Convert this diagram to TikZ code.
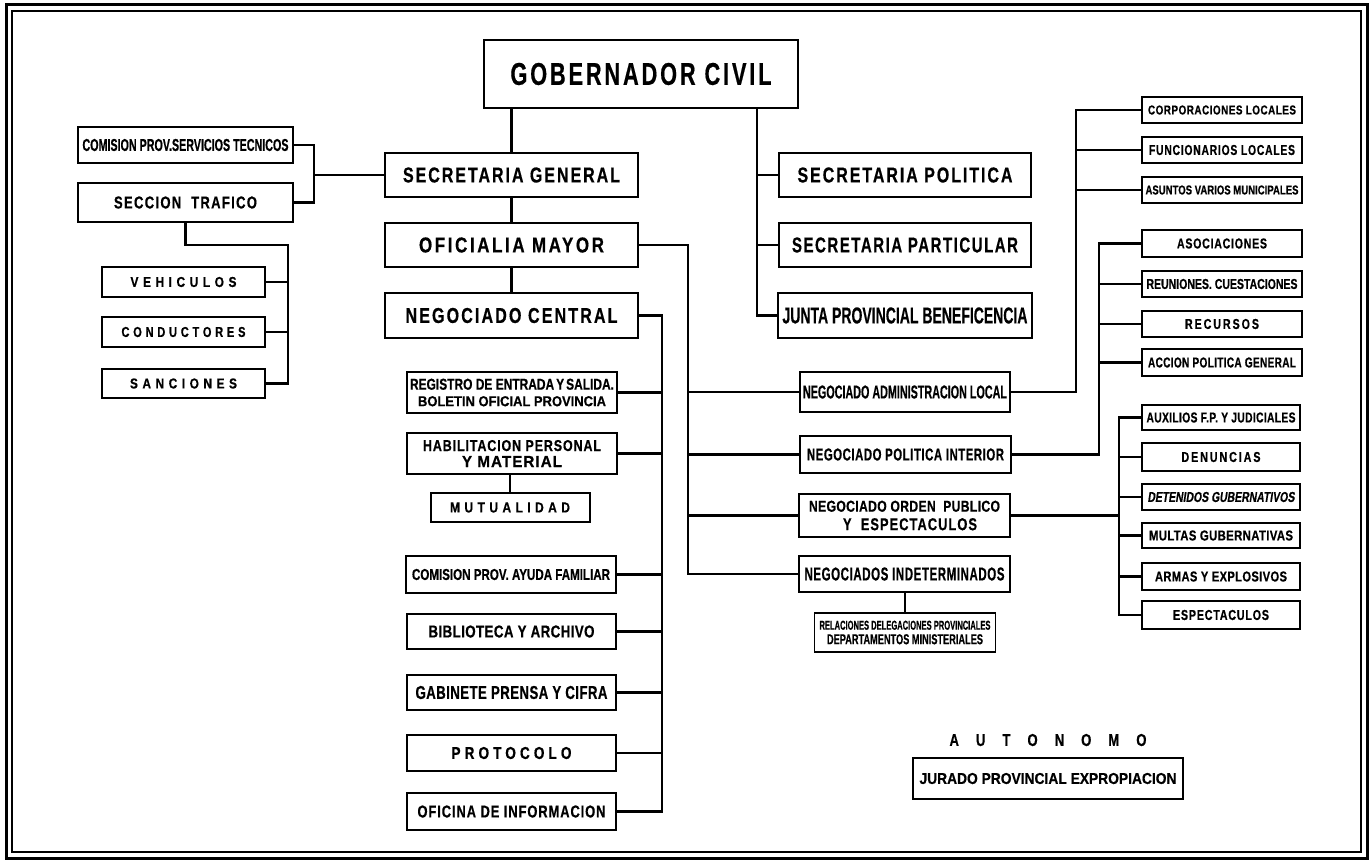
\documentclass[tikz,border=0pt]{standalone}
\usepackage{fontspec}
\setmainfont{Liberation Sans}
\usepackage{graphicx}
\newcommand\tx[4][0]{\resizebox{#2pt}{#3pt}{\bfseries\addfontfeatures{LetterSpace=#1,FakeBold=0.6}#4}}
\begin{document}
\begin{tikzpicture}[x=1pt,y=-1pt,
  bx/.style n args={2}{draw,line width=2pt,inner sep=0pt,minimum width=#1pt,minimum height=#2pt,align=center},
  ln/.style={line width=2.4pt},
  trunk/.style={line width=3.4pt}]
\useasboundingbox (0,0) rectangle (1370,863);
\fill[white] (0,0) rectangle (1370,863);
% frame
\draw[line width=3pt] (6,4) rectangle (1367,858);
\draw[line width=2pt] (12,11) rectangle (1361,852);

% top level
\node[bx={314}{68},line width=2.4pt] (gob) at (641,74) {\tx[13]{261}{22}{GOBERNADOR CIVIL}};
\node[bx={253}{44},line width=2.2pt] (secgen) at (511.5,175) {\tx[12]{217}{15}{SECRETARIA GENERAL}};
\node[bx={253}{44},line width=2.2pt] (ofim) at (511.5,245) {\tx[15]{185}{15}{OFICIALIA MAYOR}};
\node[bx={253}{45},line width=2.2pt] (negc) at (511.5,315.5) {\tx[13]{212}{15}{NEGOCIADO CENTRAL}};
\node[bx={252}{44},line width=2.2pt] (secpol) at (905,175) {\tx[12]{215}{15}{SECRETARIA POLITICA}};
\node[bx={252}{44},line width=2.2pt] (secpar) at (905,245) {\tx[10]{226}{15}{SECRETARIA PARTICULAR}};
\node[bx={254}{45},line width=2.2pt] (junta) at (905,315.5) {\tx{245}{16}{JUNTA PROVINCIAL BENEFICENCIA}};

% left group
\node[bx={215}{36}] (cst) at (185.5,145) {\tx{206}{12}{COMISION PROV.SERVICIOS TECNICOS}};
\node[bx={215}{39}] (traf) at (185.5,202.5) {\tx[10]{143}{12}{SECCION\ \ TRAFICO}};
\node[bx={163}{30}] (veh) at (183.5,282) {\tx[38]{106}{10}{VEHICULOS}};
\node[bx={163}{30}] (cond) at (183.5,332) {\tx[34]{124}{10}{CONDUCTORES}};
\node[bx={163}{29}] (sanc) at (183.5,383.5) {\tx[38]{107}{10}{SANCIONES}};

% negociado central children
\node[bx={210}{41},font=\fontsize{10pt}{16.5pt}\selectfont] (reg) at (512,392.5)
  {\tx{204}{11}{REGISTRO DE ENTRADA\,Y\,SALIDA.}\\\tx{188}{10}{BOLETIN OFICIAL PROVINCIA}};
\node[bx={210}{41},font=\fontsize{10pt}{16pt}\selectfont] (hab) at (512,453.5)
  {\tx[7]{178}{11}{HABILITACION PERSONAL}\\\tx[7]{100}{11}{Y MATERIAL}};
\node[bx={159}{29}] (mut) at (510,507.5) {\tx[36]{120}{10}{MUTUALIDAD}};
\node[bx={210}{37}] (caf) at (511,574.5) {\tx{198}{11}{COMISION PROV. AYUDA FAMILIAR}};
\node[bx={209}{35}] (bib) at (511.5,631.5) {\tx[3]{166}{12}{BIBLIOTECA Y ARCHIVO}};
\node[bx={209}{35}] (gab) at (511.5,692.5) {\tx[3]{192}{13}{GABINETE PRENSA Y CIFRA}};
\node[bx={209}{36}] (prot) at (511.5,753) {\tx[30]{120}{12}{PROTOCOLO}};
\node[bx={209}{37}] (ofi) at (511.5,811.5) {\tx[7]{188}{12}{OFICINA DE INFORMACION}};

% oficialia mayor children
\node[bx={210}{40}] (nal) at (905,392) {\tx{204}{13}{NEGOCIADO ADMINISTRACION LOCAL}};
\node[bx={211}{37}] (npi) at (905.5,454.5) {\tx[5]{197}{12}{NEGOCIADO POLITICA INTERIOR}};
\node[bx={211}{43},font=\fontsize{10pt}{18.5pt}\selectfont] (nop) at (904.5,515.5)
  {\tx[3]{191}{11}{NEGOCIADO ORDEN\ \ PUBLICO}\\\hspace*{11pt}\tx[8]{134}{12}{Y\ \ ESPECTACULOS}};
\node[bx={211}{36}] (nin) at (904.5,574) {\tx[5]{200}{13}{NEGOCIADOS INDETERMINADOS}};
\node[bx={181}{39},line width=1.8pt,font=\fontsize{10pt}{14.5pt}\selectfont] (rel) at (905,632.5)
  {\tx{171}{9}{RELACIONES DELEGACIONES PROVINCIALES}\\\tx{156}{10}{DEPARTAMENTOS MINISTERIALES}};

% right column
\node[bx={160}{26},line width=1.8pt] (corp) at (1222,110) {\tx[5]{148}{9}{CORPORACIONES LOCALES}};
\node[bx={160}{26},line width=1.8pt] (func) at (1222,150) {\tx[7]{146}{10}{FUNCIONARIOS LOCALES}};
\node[bx={160}{26},line width=1.8pt] (asun) at (1222,190) {\tx{153}{9}{ASUNTOS VARIOS MUNICIPALES}};
\node[bx={160}{27},line width=1.8pt] (asoc) at (1222,243.5) {\tx[7]{90}{10}{ASOCIACIONES}};
\node[bx={160}{26},line width=1.8pt] (reun) at (1222,284) {\tx{151}{10}{REUNIONES. CUESTACIONES}};
\node[bx={160}{26},line width=1.8pt] (recu) at (1222,324) {\tx[18]{74}{10}{RECURSOS}};
\node[bx={160}{27},line width=1.8pt] (acc) at (1222,362.5) {\tx[3]{148}{10}{ACCION POLITICA GENERAL}};
\node[bx={158}{25},line width=1.8pt] (aux) at (1221,417.5) {\tx[3]{149}{10}{AUXILIOS F.P. Y JUDICIALES}};
\node[bx={158}{28},line width=1.8pt] (den) at (1221,457) {\tx[18]{79}{10}{DENUNCIAS}};
\node[bx={158}{26},line width=1.8pt] (det) at (1221,497) {\tx{147}{10}{\addfontfeatures{FakeSlant=0.2}DETENIDOS GUBERNATIVOS}};
\node[bx={158}{25},line width=1.8pt] (mul) at (1221,535.5) {\tx[3]{144}{10}{MULTAS GUBERNATIVAS}};
\node[bx={158}{27},line width=1.8pt] (arm) at (1221,576.5) {\tx[3]{132}{10}{ARMAS Y EXPLOSIVOS}};
\node[bx={158}{28},line width=1.8pt] (esp) at (1221,615) {\tx[7]{96}{10}{ESPECTACULOS}};

% autonomo
\node[inner sep=0pt] (aut) at (1048,740) {\resizebox{197pt}{12pt}{\bfseries\addfontfeatures{FakeBold=0.6}A\hspace{1.3em}U\hspace{1.3em}T\hspace{1.3em}O\hspace{1.3em}N\hspace{1.3em}O\hspace{1.3em}M\hspace{1.3em}O}};
\node[bx={270}{41}] (jur) at (1048,778.5) {\tx{257}{11}{JURADO PROVINCIAL EXPROPIACION}};

% coordinates
\coordinate (rb) at (757,100);
\coordinate (lb) at (314,175);
\coordinate (tb) at (288,245);
\coordinate (ob) at (688,245);
\coordinate (nb) at (662,317);
\coordinate (ab) at (1076,110);
\coordinate (pb) at (1099,243.5);
\coordinate (qb) at (1119,516);

% connectors
\draw[trunk] (secgen.north) -- (secgen.north |- gob.south);
\draw[trunk] (secgen.south) -- (ofim.north);
\draw[trunk] (ofim.south) -- (negc.north);

\draw[ln] (gob.south -| rb) |- (junta.west);
\draw[ln] (secpol.west) -- (secpol.west -| rb);
\draw[ln] (secpar.west) -- (secpar.west -| rb);

\draw[ln] (cst.east) -| (lb) |- (traf.east);
\draw[ln] (secgen.west) -- (lb);

\draw[ln] (traf.south) |- (tb) |- (sanc.east);
\draw[ln] (veh.east) -- (veh.east -| tb);
\draw[ln] (cond.east) -- (cond.east -| tb);

\draw[ln] (ofim.east) -- (ob) |- (nin.west);
\draw[ln] (nal.west) -- (nal.west -| ob);
\draw[ln] (npi.west) -- (npi.west -| ob);
\draw[ln] (nop.west) -- (nop.west -| ob);

\draw[ln] (negc.east) -- (negc.east -| nb) |- (ofi.east);
\foreach \n in {reg,hab,caf,bib,gab,prot}
  \draw[ln] (\n.east) -- (\n.east -| nb);

\draw[ln] (mut.north) -- (mut.north |- hab.south);
\draw[ln] (rel.north) -- (rel.north |- nin.south);

\draw[ln] (nal.east) -| (ab) -- (corp.west);
\draw[ln] (func.west) -- (func.west -| ab);
\draw[ln] (asun.west) -- (asun.west -| ab);

\draw[ln] (npi.east) -| (pb) -- (asoc.west);
\foreach \n in {reun,recu,acc}
  \draw[ln] (\n.west) -- (\n.west -| pb);

\draw[ln] (aux.west) -| (qb) |- (esp.west);
\draw[ln] (nop.east) -- (nop.east -| qb);
\foreach \n in {den,det,mul,arm}
  \draw[ln] (\n.west) -- (\n.west -| qb);
\end{tikzpicture}
\end{document}
